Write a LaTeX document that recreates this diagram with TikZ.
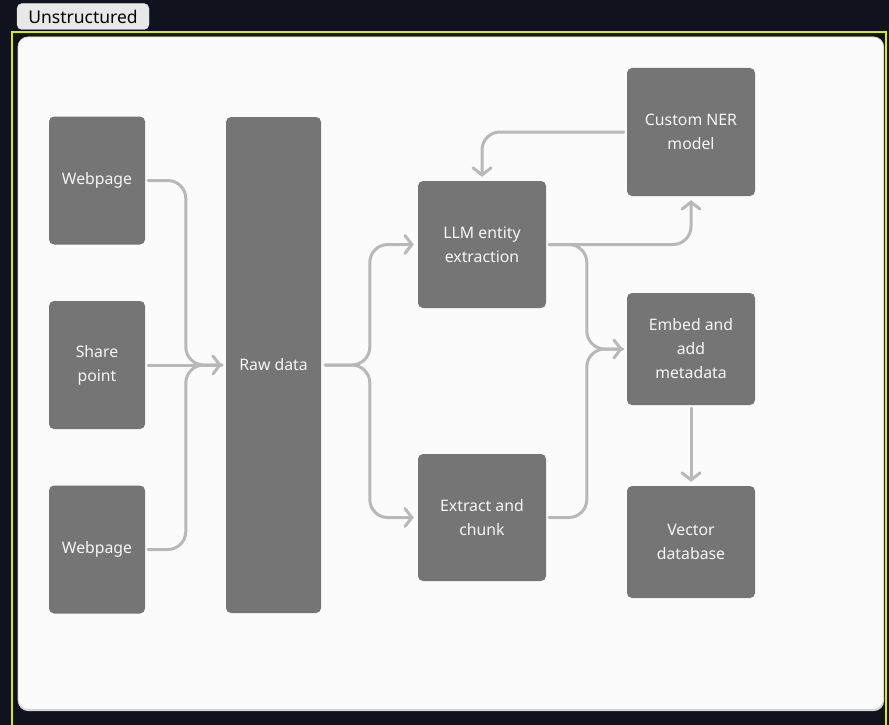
\documentclass[tikz,border=0pt]{standalone}
\usepackage{fontspec}
\setmainfont{Noto Sans}
\usetikzlibrary{arrows.meta,calc}
\definecolor{bgdark}{HTML}{10121E}
\definecolor{framey}{HTML}{DCEC00}
\definecolor{panel}{HTML}{FBFBFB}
\definecolor{paneledge}{HTML}{D4D4D4}
\definecolor{boxfill}{HTML}{757575}
\definecolor{boxtext}{HTML}{F6F6F6}
\definecolor{wire}{HTML}{B8B8B8}
\definecolor{tagfill}{HTML}{E8E8E8}
\begin{document}
\begin{tikzpicture}[x=1pt,y=-1pt,
  stagebox/.style={draw=none,fill=boxfill,rounded corners=5pt,inner sep=0pt,
    text=boxtext,font=\fontsize{15.8}{24}\selectfont,align=center},
  wirepath/.style={draw=wire,line width=3pt,line cap=round,line join=round,
    rounded corners=18pt,-{Straight Barb[length=7pt,width=18pt,line cap=round]}},
  wireplain/.style={draw=wire,line width=3pt,line cap=round,line join=round,rounded corners=18pt}]
\useasboundingbox (0,0) rectangle (889,725);
\fill[bgdark] (0,0) rectangle (889,725);
% outer frame and panel
\draw[framey,line width=2pt] (12,760) -- (12,32) -- (886,32) -- (886,760);
\fill[paneledge,rounded corners=10pt] (18,37) rectangle (884,711);
\draw[draw=paneledge,fill=panel,line width=0.8pt,rounded corners=10pt] (18,37) rectangle (883.5,709.5);
% tag
\node[draw=paneledge,fill=tagfill,rounded corners=5pt,minimum width=132pt,minimum height=26pt,
  inner sep=0pt,font=\fontsize{17.5}{18}\selectfont,text=black] (tag) at (83,16.5) {Unstructured};
% stages
\node[stagebox,minimum width=96pt,minimum height=128pt] (w1) at (97,180.5) {Webpage};
\node[stagebox,minimum width=96pt,minimum height=128pt] (sp) at (97,365) {Share\\point};
\node[stagebox,minimum width=96pt,minimum height=128pt] (w2) at (97,549.5) {Webpage};
\node[stagebox,minimum width=95pt,minimum height=496pt] (raw) at (273.5,365) {Raw data};
\node[stagebox,minimum width=128pt,minimum height=127pt] (llm) at (482,244.5) {LLM entity\\extraction};
\node[stagebox,minimum width=128pt,minimum height=127pt] (ext) at (482,517.5) {Extract and\\chunk};
\node[stagebox,minimum width=128pt,minimum height=128pt] (ner) at (691,132) {Custom NER\\model};
\node[stagebox,minimum width=128pt,minimum height=112pt] (emb) at (691,349) {Embed and\\add\\metadata};
\node[stagebox,minimum width=128pt,minimum height=112pt] (vec) at (691,542) {Vector\\database};
% sources into raw data
\draw[wireplain] ([xshift=3pt]w1.east) -| ($(raw.west)+(-40,0)$) -- ([xshift=-4pt]raw.west);
\draw[wireplain] ([xshift=3pt]w2.east) -| ($(raw.west)+(-40,0)$) -- ([xshift=-4pt]raw.west);
\draw[wirepath] ([xshift=3pt]sp.east) -- ([xshift=-4pt]raw.west);
% raw data split
\draw[wirepath] ([xshift=4pt]raw.east) -| ($(llm.west)+(-48,0)$) -- ([xshift=-4pt]llm.west);
\draw[wirepath] ([xshift=4pt]raw.east) -| ($(ext.west)+(-48,0)$) -- ([xshift=-4pt]ext.west);
% entity loop
\draw[wirepath] ([xshift=3pt]llm.east) -| ([yshift=-4pt]ner.south);
\draw[wirepath] ([xshift=-3pt]ner.west) -| ([yshift=4pt]llm.north);
% into embedding
\draw[wireplain] ([xshift=3pt]llm.east) -| ($(emb.west)+(-40,0)$) -- ([xshift=-4pt]emb.west);
\draw[wirepath] ([xshift=3pt]ext.east) -| ($(emb.west)+(-40,0)$) -- ([xshift=-4pt]emb.west);
\draw[wirepath] ([yshift=-3pt]emb.south) -- ([yshift=4pt]vec.north);
\end{tikzpicture}
\end{document}
